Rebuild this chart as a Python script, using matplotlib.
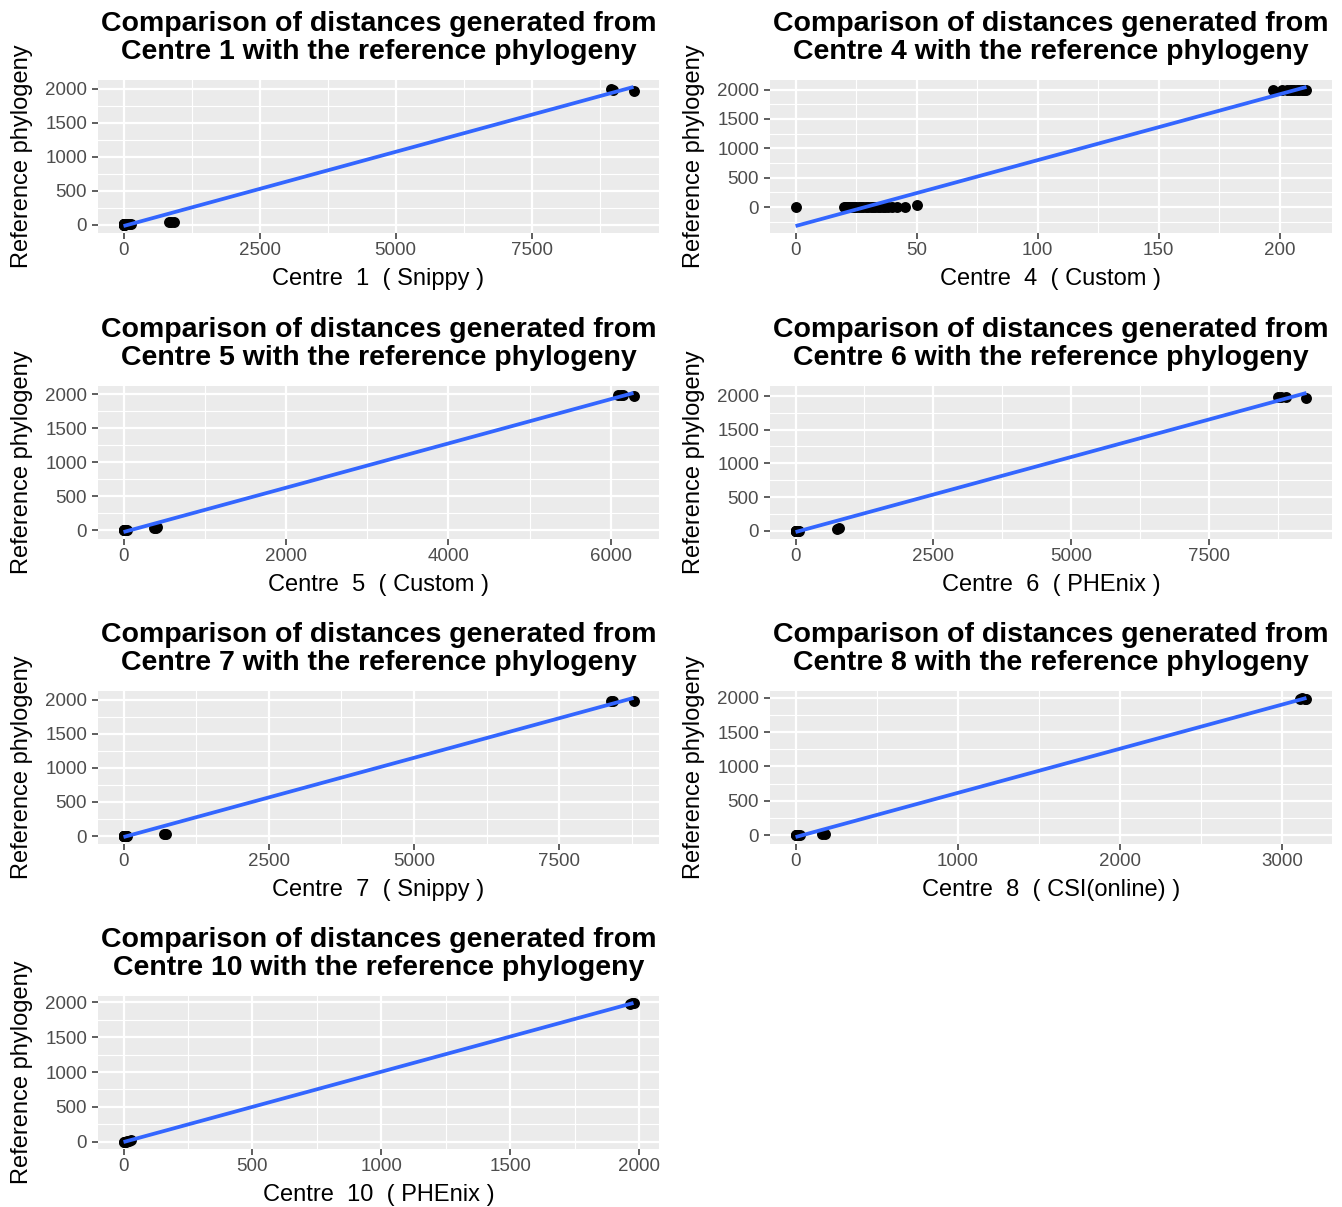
import numpy as np
import matplotlib.pyplot as plt
from matplotlib.ticker import MultipleLocator

plt.rcParams['font.family'] = ['Liberation Sans', 'DejaVu Sans']

# Centre labels and the pipeline each centre used
centres = ['1', '4', '5', '6', '7', '8', '10']
pipelines = ['Snippy', 'Custom', 'Custom', 'PHEnix', 'Snippy', 'CSI(online)', 'PHEnix']
x_steps = [2500, 50, 2000, 2500, 2500, 1000, 500]

# Pairwise distances: centre (x) against the reference phylogeny (y)
c1_x = [0, 0, 0, 2, 4, 6, 8, 10, 12, 15, 18, 20, 25, 30, 40, 50, 60, 80, 100, 140,
        840, 880, 920, 8960, 9000, 9370]
c1_y = [0, 0, 0, 0, 0, 1, 1, 1, 2, 2, 2, 3, 3, 3, 4, 4, 5, 5, 6, 8,
        30, 33, 36, 1990, 1985, 1972]

c4_x = [0, 20, 21, 21, 22, 22, 23, 23, 24, 24, 25, 26, 27, 28, 29, 30, 31, 32, 33,
        34, 35, 36, 37, 38, 40, 42, 45, 50,
        197, 201, 203, 204, 205, 206, 207, 208, 209, 210, 211]
c4_y = [0, 0, 0, 0, 0, 0, 0, 0, 0, 0, 0, 0, 0, 0, 0, 0, 0, 0, 0,
        0, 0, 0, 0, 0, 0, 0, 0, 30,
        1990, 2000, 2000, 2000, 2000, 2000, 2000, 2000, 2000, 1995, 1995]

c5_x = [0, 0, 5, 10, 15, 25, 40, 380, 400, 410, 6090, 6120, 6150, 6280]
c5_y = [0, 0, 0, 1, 1, 2, 3, 30, 35, 38, 1990, 1985, 1988, 1975]

c6_x = [0, 0, 0, 3, 5, 8, 10, 12, 15, 20, 25, 30, 40, 50, 60,
        760, 790, 8760, 8800, 8900, 9270]
c6_y = [0, 0, 0, 0, 0, 1, 1, 1, 2, 2, 2, 3, 3, 4, 5,
        32, 36, 1975, 1978, 1975, 1965]

c7_x = [0, 0, 0, 2, 3, 5, 8, 10, 12, 15, 18, 20, 25, 30, 35, 40, 45, 50, 60,
        700, 740, 8400, 8430, 8780]
c7_y = [0, 0, 0, 0, 0, 1, 1, 1, 2, 2, 2, 3, 3, 3, 4, 4, 5, 5, 6,
        25, 28, 1978, 1975, 1972]

c8_x = [0, 0, 5, 10, 15, 25, 165, 180, 3110, 3125, 3140, 3150]
c8_y = [0, 0, 0, 0, 1, 1, 22, 26, 1985, 1990, 1985, 1980]

c10_x = [0, 0, 4, 8, 12, 20, 28, 1965, 1972, 1978]
c10_y = [0, 0, 2, 4, 8, 15, 25, 1980, 1986, 1982]

xs = [c1_x, c4_x, c5_x, c6_x, c7_x, c8_x, c10_x]
ys = [c1_y, c4_y, c5_y, c6_y, c7_y, c8_y, c10_y]

W, H = 1342, 1207
fig = plt.figure(figsize=(W / 100, H / 100), dpi=100)

lefts = [98, 770]
widths = [561, 562]
tops = [80, 386, 691, 996]
panel_h = 153

for i in range(len(centres)):
    row, col = divmod(i, 2)
    ax = fig.add_axes([lefts[col] / W, 1 - (tops[row] + panel_h) / H,
                       widths[col] / W, panel_h / H])
    x = np.array(xs[i], dtype=float)
    y = np.array(ys[i], dtype=float)

    # linear fit, drawn over the range of x
    slope, intercept = np.polyfit(x, y, 1)
    lx = np.array([x.min(), x.max()])
    ly = intercept + slope * lx

    ax.set_facecolor('#EBEBEB')
    ax.scatter(x, y, s=62, color='black', zorder=3, linewidths=0)
    ax.plot(lx, ly, color='#3366FF', lw=2.7, zorder=4, solid_capstyle='butt')

    # 5% padding on both axes
    xlo, xhi = x.min(), x.max()
    ylo, yhi = min(y.min(), ly.min()), max(y.max(), ly.max())
    dx, dy = (xhi - xlo) * 0.05, (yhi - ylo) * 0.05
    ax.set_xlim(xlo - dx, xhi + dx)
    ax.set_ylim(ylo - dy, yhi + dy)

    ax.xaxis.set_major_locator(MultipleLocator(x_steps[i]))
    ax.xaxis.set_minor_locator(MultipleLocator(x_steps[i] / 2))
    ax.yaxis.set_major_locator(MultipleLocator(500))
    ax.yaxis.set_minor_locator(MultipleLocator(250))

    ax.grid(which='major', color='white', lw=1.6)
    ax.grid(which='minor', color='white', lw=0.8)
    ax.set_axisbelow(True)
    for s in ax.spines.values():
        s.set_visible(False)

    ax.tick_params(which='major', length=4.3, width=1.1, color='#333333',
                   labelcolor='#4D4D4D', labelsize=13.5)
    ax.tick_params(axis='x', pad=2.5)
    ax.tick_params(axis='y', pad=3.5)
    ax.tick_params(which='minor', length=0)

    ax.set_title('Comparison of distances generated from\nCentre ' + centres[i]
                 + ' with the reference phylogeny',
                 fontsize=20.5, fontweight='bold', pad=15, linespacing=1.1)
    ax.set_xlabel('Centre  ' + centres[i] + '  ( ' + pipelines[i] + ' )',
                  fontsize=17, va='center')
    ax.xaxis.set_label_coords(0.5, -0.3)
    ax.set_ylabel('Reference phylogeny', fontsize=17, va='center')
    ax.yaxis.set_label_coords(-0.135, 0.5)

fig.savefig('out.png', dpi=100, facecolor='white')
